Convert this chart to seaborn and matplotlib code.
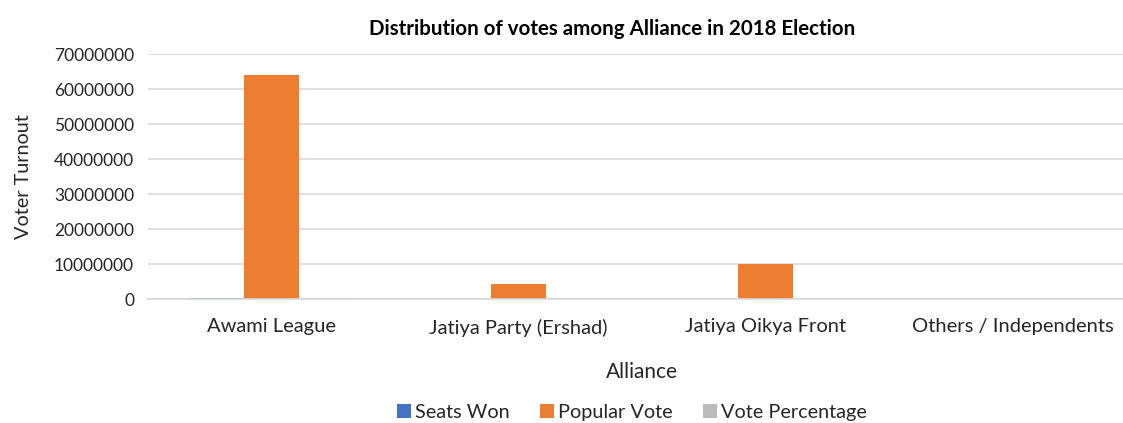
import matplotlib
matplotlib.use("Agg")
import matplotlib.pyplot as plt
import seaborn as sns
import pandas as pd
from matplotlib.patches import Patch

categories = ["Awami League", "Jatiya Party (Ershad)", "Jatiya Oikya Front", "Others / Independents"]
series_names = ["Seats Won", "Popular Vote", "Vote Percentage"]
seats_won = [350000, 0, 0, 0]
popular_vote = [63970000, 4200000, 9950000, 0]
vote_percentage = [350000, 0, 0, 0]
colors = ["#4472C4", "#ED7D31", "#BBBBBB"]
y_ticks = [0, 10000000, 20000000, 30000000, 40000000, 50000000, 60000000, 70000000]

rows = []
for name, vals in zip(series_names, [seats_won, popular_vote, vote_percentage]):
    for c, v in zip(categories, vals):
        rows.append({"Alliance": c, "Series": name, "Value": v})
df = pd.DataFrame(rows)

sns.set_style("white")
plt.rcParams["font.family"] = ["Lato", "DejaVu Sans"]

fig = plt.figure(figsize=(11.23, 4.23), dpi=100)
ax = fig.add_axes([148/1123, 124/423, 988/1123, 245/423])

sns.barplot(data=df, x="Alliance", y="Value", hue="Series", order=categories,
            hue_order=series_names, palette=colors, width=0.668, gap=0,
            saturation=1, ax=ax, legend=False, linewidth=0, errorbar=None)

ax.set_ylim(0, 70000000)
ax.set_xlim(-0.5, 3.5)
ax.set_yticks(y_ticks)
ax.set_yticklabels([str(t) for t in y_ticks], fontsize=12.5, color="#262626")
ax.tick_params(axis="x", labelsize=14.5, colors="#262626", length=0, pad=14)
ax.tick_params(axis="y", length=0, pad=10)
ax.yaxis.grid(True, color="#d9d9d9", linewidth=1.2)
ax.set_axisbelow(True)
for s in ["top", "right", "left"]:
    ax.spines[s].set_visible(False)
ax.spines["bottom"].set_color("#d9d9d9")
ax.spines["bottom"].set_linewidth(1.2)

ax.set_xlabel("Alliance", fontsize=15, color="#262626", labelpad=18)
ax.set_ylabel("Voter Turnout", fontsize=14.3, color="#262626", labelpad=16)

fig.text(612/1123, 1 - 35/423, "Distribution of votes among Alliance in 2018 Election",
         ha="center", va="baseline", fontsize=14.8, fontweight="bold", color="#000000")

handles = [Patch(facecolor=c, edgecolor="none") for c in colors]
fig.legend(handles, series_names, loc="center", bbox_to_anchor=(632/1123, 1 - 412/423),
           ncol=3, frameon=False, fontsize=14.3, handlelength=0.7, handleheight=0.7,
           handletextpad=0.2, columnspacing=1.55, labelcolor="#262626",
           borderpad=0, borderaxespad=0)

fig.savefig("out.png", dpi=100)
